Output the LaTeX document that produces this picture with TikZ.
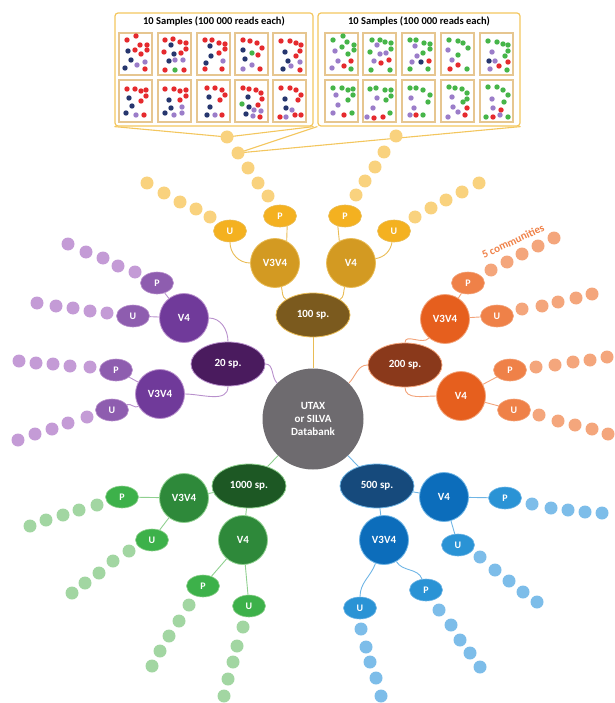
\documentclass[tikz,border=0pt]{standalone}
\usepackage{fontspec}
\setmainfont{Carlito}
\usetikzlibrary{shapes.geometric}
\pgfdeclarelayer{bg}
\pgfsetlayers{bg,main}
% yellow
\definecolor{ysp}{HTML}{7B5A1E}\definecolor{yV}{HTML}{D39A22}\definecolor{yPU}{HTML}{F4B120}\definecolor{ydot}{HTML}{F9D27E}\definecolor{yline}{HTML}{E9BC55}
% purple
\definecolor{psp}{HTML}{4A1B5E}\definecolor{pV}{HTML}{703A9A}\definecolor{pPU}{HTML}{8E5DAF}\definecolor{pdot}{HTML}{C49BD6}\definecolor{pline}{HTML}{B890CC}
% orange
\definecolor{osp}{HTML}{8A391B}\definecolor{oV}{HTML}{E65F1E}\definecolor{oPU}{HTML}{EF8148}\definecolor{odot}{HTML}{F4A67C}\definecolor{oline}{HTML}{F2A37A}
% green
\definecolor{gsp}{HTML}{1D5824}\definecolor{gV}{HTML}{2E893A}\definecolor{gPU}{HTML}{3DB14A}\definecolor{gdot}{HTML}{A2D6A2}\definecolor{gline}{HTML}{8FD08F}
% blue
\definecolor{bsp}{HTML}{164A7C}\definecolor{bV}{HTML}{0C6DBB}\definecolor{bPU}{HTML}{2A93D5}\definecolor{bdot}{HTML}{7DBDE9}\definecolor{bline}{HTML}{6FB5E5}
\definecolor{utaxc}{HTML}{6E6B6F}
\definecolor{topb}{HTML}{F3C65E}
\definecolor{sboxc}{HTML}{E6C690}
\definecolor{sR}{HTML}{E52A2E}\definecolor{sN}{HTML}{26366E}\definecolor{sV}{HTML}{9B7DC9}\definecolor{sG}{HTML}{46B549}
\newcommand\sampbox[3]{%
  \draw[sboxc, line width=1.2pt, fill=white] (#1,#2) rectangle ++(33,42);
  \foreach \a/\b/\c in {#3} \fill[\c] (#1+\a,#2+\b) circle[radius=2.7pt];
}
\begin{document}
\begin{tikzpicture}[x=1pt,y=-1pt,
  spnode/.style={ellipse, minimum width=74pt, minimum height=44pt, inner sep=0pt, text=white, line width=0.8pt, font=\fontsize{11}{13}\selectfont\bfseries},
  vnode/.style={circle, minimum size=49pt, inner sep=0pt, text=white, line width=0.8pt, font=\fontsize{11}{13}\selectfont\bfseries},
  punode/.style={ellipse, minimum width=33pt, minimum height=22pt, inner sep=0pt, text=white, line width=0.6pt, font=\fontsize{10}{12}\selectfont\bfseries},
  cdot/.style={circle, minimum size=13pt, inner sep=0pt},
  conn/.style={line width=0.9pt},
  funnel/.style={topb, line width=1.1pt}]
\useasboundingbox (0,0) rectangle (614,703);

% ---------- top sample panels
\node[draw=topb, line width=1.2pt, rounded corners=3pt, minimum width=198pt, minimum height=113pt, inner sep=0pt] (boxL) at (214,69.5) {};
\node[draw=topb, line width=1.2pt, rounded corners=3pt, minimum width=202pt, minimum height=113pt, inner sep=0pt] (boxR) at (419,69.5) {};
\node[font=\fontsize{10.5}{12}\selectfont\bfseries] (tL) at (214,21) {10 Samples (100 000 reads each)};
\node[font=\fontsize{10.5}{12}\selectfont\bfseries] (tR) at (419,21) {10 Samples (100 000 reads each)};

\sampbox{119}{33}{8/7/sR,17/3/sR,21/12/sR,28/12/sR,28/17/sR,16/17/sR,22/21/sR,9/18/sN,12/27/sN,6/35/sN,26/29/sV,18/32/sV,26/36/sR}
\sampbox{158}{33}{7/7/sR,15/6/sR,22/9/sR,28/10/sR,28/16/sR,13/12/sN,6/19/sR,16/21/sN,23/20/sR,11/28/sN,17/27/sV,25/27/sV,17/37/sG,7/37/sR,26/37/sR}
\sampbox{197}{33}{8/7/sR,15/7/sR,22/10/sR,28/11/sR,28/16/sR,13/13/sN,22/20/sR,14/23/sN,26/28/sV,9/30/sN,8/36/sR,25/36/sR}
\sampbox{235}{33}{8/7/sR,15/8/sR,22/10/sR,27/15/sR,8/17/sN,17/20/sG,23/22/sR,10/26/sN,17/32/sV,8/36/sV,25/36/sR}
\sampbox{273}{33}{8/8/sR,17/8/sR,23/10/sR,28/12/sR,27/18/sR,12/19/sN,23/23/sR,15/28/sN,27/29/sV,18/33/sV,10/36/sN,27/37/sR}
\sampbox{119}{80}{8/9/sR,16/9/sR,22/11/sR,27/10/sR,27/16/sR,10/18/sN,22/21/sR,13/26/sN,7/33/sN,17/35/sV,25/35/sR}
\sampbox{158}{80}{7/9/sR,16/9/sR,22/11/sR,28/10/sR,28/16/sR,11/20/sN,22/20/sR,13/28/sN,24/27/sV,7/33/sN,16/35/sV,24/33/sV}
\sampbox{197}{80}{10/8/sR,18/8/sR,25/10/sR,28/15/sR,12/17/sN,23/20/sR,13/27/sN,10/35/sN,18/35/sV,25/35/sR}
\sampbox{235}{80}{8/8/sR,14/9/sR,21/10/sR,26/13/sR,27/19/sR,13/17/sN,7/24/sG,23/25/sR,14/27/sN,19/30/sV,26/31/sV,11/34/sN,18/36/sV,25/37/sR}
\sampbox{273}{80}{8/8/sR,17/8/sR,23/10/sR,28/15/sR,12/19/sN,25/20/sR,13/28/sN,19/30/sV,7/37/sR,13/37/sV,22/35/sR,28/35/sR}

\sampbox{325}{33}{8/7/sG,18/3/sG,22/9/sG,29/12/sG,29/17/sG,10/18/sV,17/14/sG,23/21/sG,13/28/sV,19/33/sR,26/28/sR,7/35/sV,26/36/sG}
\sampbox{363}{33}{9/7/sG,17/7/sG,22/9/sG,28/10/sG,28/16/sG,14/12/sV,7/19/sG,17/21/sV,23/20/sV,11/28/sV,18/30/sR,26/27/sR,8/37/sG,27/37/sG}
\sampbox{402}{33}{8/7/sG,14/7/sG,22/10/sG,28/11/sG,28/16/sG,13/13/sV,21/20/sG,15/23/sV,10/29/sV,19/29/sN,27/28/sR,8/36/sG,26/36/sG}
\sampbox{441}{33}{8/7/sG,17/8/sG,22/10/sG,27/15/sG,7/17/sV,17/22/sG,11/27/sV,17/32/sR,9/36/sR,26/36/sG}
\sampbox{480}{33}{8/8/sG,17/9/sG,23/11/sG,28/12/sG,28/18/sG,12/19/sV,25/23/sG,9/28/sN,15/28/sV,28/29/sR,19/33/sR,10/36/sV,27/37/sG}
\sampbox{325}{80}{8/8/sG,17/8/sG,23/10/sG,28/9/sG,28/15/sG,11/15/sV,23/20/sG,13/25/sV,8/33/sV,19/35/sR,27/33/sG}
\sampbox{363}{80}{7/9/sG,13/8/sG,22/10/sG,28/10/sG,28/16/sG,14/18/sV,23/20/sG,10/28/sV,4/37/sV,11/38/sR,20/37/sR,27/33/sG}
\sampbox{402}{80}{8/8/sG,14/8/sG,21/10/sG,28/15/sG,9/18/sV,26/22/sG,12/28/sV,8/35/sV,14/35/sR,21/35/sG}
\sampbox{441}{80}{8/7/sG,14/8/sG,21/9/sG,26/13/sG,26/19/sG,11/17/sV,22/22/sG,12/27/sV,26/28/sR,17/32/sV,24/35/sR,7/37/sV}
\sampbox{480}{80}{8/7/sG,17/7/sG,23/10/sG,28/15/sG,12/19/sV,24/22/sG,13/28/sV,21/30/sR,6/37/sG,13/37/sR,20/35/sV,28/37/sG}

% ---------- centre
\node[circle, fill=utaxc, minimum size=101pt, inner sep=0pt, text=white, align=center, font=\fontsize{11}{13}\selectfont\bfseries] (utax) at (313,419) {UTAX\\or SILVA\\Databank};

% ---------- yellow branch (100 sp.)
\node[spnode, fill=ysp, draw=yline] (n100) at (313,315) {100 sp.};
\node[vnode, fill=yV, draw=yline] (yV3) at (275,263) {V3V4};
\node[vnode, fill=yV, draw=yline] (yV4) at (351,263) {V4};
\node[punode, fill=yPU, draw=yline] (yP1) at (280,216) {P};
\node[punode, fill=yPU, draw=yline] (yU1) at (230,231) {U};
\node[punode, fill=yPU, draw=yline] (yP2) at (345,216) {P};
\node[punode, fill=yPU, draw=yline] (yU2) at (394,231) {U};
\foreach \px/\py [count=\i] in {268/196,258/183,248/168,238/153,227/137} \node[cdot, fill=ydot] (yPd-\i) at (\px,\py) {};
\foreach \px/\py [count=\i] in {210/217,196/209,180/202,164/193,147/183} \node[cdot, fill=ydot] (yUd-\i) at (\px,\py) {};
\foreach \px/\py [count=\i] in {356/195,365/181,375/167,384/152,396/136} \node[cdot, fill=ydot] (yQd-\i) at (\px,\py) {};
\foreach \px/\py [count=\i] in {415/217,431/208,446/200,462/192,479/183} \node[cdot, fill=ydot] (yVd-\i) at (\px,\py) {};

% ---------- purple branch (20 sp.)
\node[spnode, fill=psp, draw=pline] (n20) at (228,364) {20 sp.};
\node[vnode, fill=pV, draw=pline] (pV4) at (184,318) {V4};
\node[vnode, fill=pV, draw=pline] (pV3) at (160,394) {V3V4};
\node[punode, fill=pPU, draw=pline] (pP1) at (157,283) {P};
\node[punode, fill=pPU, draw=pline] (pU1) at (133,316) {U};
\node[punode, fill=pPU, draw=pline] (pP2) at (116,370) {P};
\node[punode, fill=pPU, draw=pline] (pU2) at (112,410) {U};
\foreach \px/\py [count=\i] in {135/272,118/266,103/258,86/252,68/244} \node[cdot, fill=pdot] (pPd-\i) at (\px,\py) {};
\foreach \px/\py [count=\i] in {107/313,90/311,73/308,56/306,37/303} \node[cdot, fill=pdot] (pUd-\i) at (\px,\py) {};
\foreach \px/\py [count=\i] in {90/367,70/366,53/364,36/363,19/361} \node[cdot, fill=pdot] (pQd-\i) at (\px,\py) {};
\foreach \px/\py [count=\i] in {87/417,68/423,52/429,35/434,18/440} \node[cdot, fill=pdot] (pVd-\i) at (\px,\py) {};

% ---------- orange branch (200 sp.)
\node[spnode, fill=osp, draw=oline] (n200) at (405,365) {200 sp.};
\node[vnode, fill=oV, draw=oline] (oV3) at (445,319) {V3V4};
\node[vnode, fill=oV, draw=oline] (oV4) at (461,396) {V4};
\node[punode, fill=oPU, draw=oline] (oP1) at (468,283) {P};
\node[punode, fill=oPU, draw=oline] (oU1) at (497,316) {U};
\node[punode, fill=oPU, draw=oline] (oP2) at (510,370) {P};
\node[punode, fill=oPU, draw=oline] (oU2) at (514,410) {U};
\foreach \px/\py [count=\i] in {491/270,507/262,522/254,538/246,554/238} \node[cdot, fill=odot] (oPd-\i) at (\px,\py) {};
\foreach \px/\py [count=\i] in {522/309,542/306,558/302,576/298,592/294} \node[cdot, fill=odot] (oUd-\i) at (\px,\py) {};
\foreach \px/\py [count=\i] in {536/367,555/365,573/362,590/360,607/357} \node[cdot, fill=odot] (oQd-\i) at (\px,\py) {};
\foreach \px/\py [count=\i] in {539/415,558/421,575/425,592/429,608/434} \node[cdot, fill=odot] (oVd-\i) at (\px,\py) {};
\node[rotate=25, text=oPU, inner sep=0pt, font=\fontsize{11}{13}\selectfont\bfseries] (comm) at (513,241) {5 communities};

% ---------- green branch (1000 sp.)
\node[spnode, fill=gsp, draw=gline] (n1000) at (249,486) {1000 sp.};
\node[vnode, fill=gV, draw=gline] (gV3) at (184,498) {V3V4};
\node[vnode, fill=gV, draw=gline] (gV4) at (243,540) {V4};
\node[punode, fill=gPU, draw=gline] (gP1) at (122,497) {P};
\node[punode, fill=gPU, draw=gline] (gU1) at (152,540) {U};
\node[punode, fill=gPU, draw=gline] (gP2) at (203,586) {P};
\node[punode, fill=gPU, draw=gline] (gU2) at (249,606) {U};
\foreach \px/\py [count=\i] in {97/505,79/510,63/515,46/520,30/526} \node[cdot, fill=gdot] (gPd-\i) at (\px,\py) {};
\foreach \px/\py [count=\i] in {129/551,113/561,99/573,85/583,72/593} \node[cdot, fill=gdot] (gUd-\i) at (\px,\py) {};
\foreach \px/\py [count=\i] in {189/605,179/621,169/636,160/651,152/666} \node[cdot, fill=gdot] (gQd-\i) at (\px,\py) {};
\foreach \px/\py [count=\i] in {243/627,237/646,233/662,228/679,224/696} \node[cdot, fill=gdot] (gVd-\i) at (\px,\py) {};

% ---------- blue branch (500 sp.)
\node[spnode, fill=bsp, draw=bline] (n500) at (377,486) {500 sp.};
\node[vnode, fill=bV, draw=bline] (bV4) at (444,497) {V4};
\node[vnode, fill=bV, draw=bline] (bV3) at (384,540) {V3V4};
\node[punode, fill=bPU, draw=bline] (bP1) at (505,498) {P};
\node[punode, fill=bPU, draw=bline] (bU1) at (458,545) {U};
\node[punode, fill=bPU, draw=bline] (bP2) at (426,590) {P};
\node[punode, fill=bPU, draw=bline] (bU2) at (360,608) {U};
\foreach \px/\py [count=\i] in {532/504,551/508,568/510,585/512,602/513} \node[cdot, fill=bdot] (bPd-\i) at (\px,\py) {};
\foreach \px/\py [count=\i] in {480/557,495/570,509/581,523/592,537/602} \node[cdot, fill=bdot] (bUd-\i) at (\px,\py) {};
\foreach \px/\py [count=\i] in {439/610,451/625,460/640,470/653,480/667} \node[cdot, fill=bdot] (bQd-\i) at (\px,\py) {};
\foreach \px/\py [count=\i] in {361/629,366/647,370/662,376/678,381/696} \node[cdot, fill=bdot] (bVd-\i) at (\px,\py) {};

% ---------- connectors
\begin{pgfonlayer}{bg}
\draw[funnel] (boxL.south west) -- (yPd-5.center);
\draw[funnel] (boxL.south east) -- (yPd-5.center);
\draw[funnel] (boxR.south west) -- (yPd-4.center);
\draw[funnel] (boxR.south east) -- (yPd-4.center);
\end{pgfonlayer}

\draw[conn, yline] (yU1) to[out=-90, in=180] (yV3);
\draw[conn, yline] (yP1.-55) -- (yV3.62);
\draw[conn, yline] (yV3) to[out=-75, in=150] (n100);
\draw[conn, yline] (yV4) to[out=-105, in=30] (n100);
\draw[conn, yline] (yP2.-125) -- (yV4.118);
\draw[conn, yline] (yV4) to[out=10, in=-100] (yU2);
\draw[conn, yline] (n100) -- (utax);

\draw[conn, pline] (pP1) -- (pV4);
\draw[conn, pline] (pU1) -- (pV4);
\draw[conn, pline] (pV4) to[out=0, in=90] (n20);
\draw[conn, pline] (n20) to[out=-90, in=0] (pV3);
\draw[conn, pline] (pP2) -- (pV3);
\draw[conn, pline] (pU2) to[out=20, in=-150] (pV3);
\draw[conn, pline] (n20) to[out=0, in=135] (utax);

\draw[conn, oline] (n200) to[out=180, in=45] (utax);
\draw[conn, oline] (oV3) to[out=-130, in=90] (n200);
\draw[conn, oline] (oP1) -- (oV3);
\draw[conn, oline] (oU1) -- (oV3);
\draw[conn, oline] (n200) to[out=-90, in=180] (oV4);
\draw[conn, oline] (oV4) -- (oP2);
\draw[conn, oline] (oV4) -- (oU2);

\draw[conn, gline] (n1000) -- (utax);
\draw[conn, gline] (n1000) -- (gV3);
\draw[conn, gline] (gP1) -- (gV3);
\draw[conn, gline] (gU1) -- (gV3);
\draw[conn, gline] (n1000) -- (gV4);
\draw[conn, gline] (gV4) -- (gP2);
\draw[conn, gline] (gV4) -- (gU2);

\draw[conn, bline] (n500) -- (utax);
\draw[conn, bline] (n500) -- (bV4);
\draw[conn, bline] (n500) -- (bV3);
\draw[conn, bline] (bV4) -- (bP1);
\draw[conn, bline] (bV4) -- (bU1);
\draw[conn, bline] (bV3) to[out=-60, in=110] (bP2);
\draw[conn, bline] (bV3) to[out=-110, in=90] (bU2);
\end{tikzpicture}
\end{document}
